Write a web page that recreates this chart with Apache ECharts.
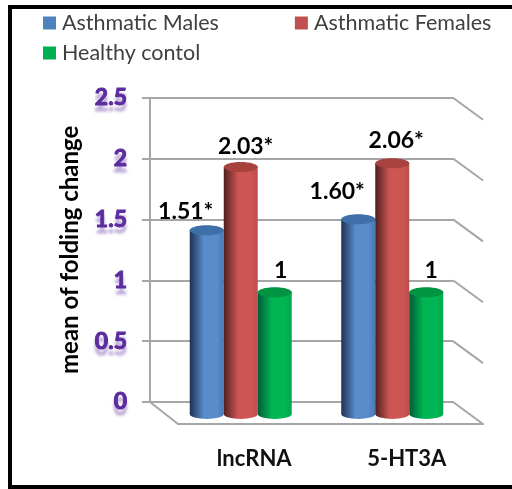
<!DOCTYPE html>
<html>
<head>
<meta charset="utf-8">
<style>
  html, body { margin: 0; padding: 0; background: #fff; }
  #chart { width: 512px; height: 489px; }
  /* picture frame, the reference has no right edge */
  #frame { position: absolute; left: 8px; top: 5px; width: 510px; height: 476px; box-sizing: content-box;
           border-left: 4px solid #000; border-top: 4px solid #000; border-bottom: 4px solid #000; pointer-events: none; }
  body { overflow: hidden; }
</style>
</head>
<body>
<div id="chart"></div>
<div id="frame"></div>
<script src="https://cdn.jsdelivr.net/npm/echarts@6/dist/echarts.min.js"></script>
<script>
const categories = ['lncRNA', '5-HT3A'];
const seriesNames = ['Asthmatic Males', 'Asthmatic Females', 'Healthy contol'];
const malesValues = [1.51, 1.60];
const femalesValues = [2.03, 2.06];
const controlValues = [1, 1];
const malesLabels = ['1.51*', '1.60*'];
const femalesLabels = ['2.03*', '2.06*'];
const controlLabels = ['1', '1'];
const yTicks = [0, 0.5, 1, 1.5, 2, 2.5];

let myChart = echarts.init(document.getElementById('chart'), null, { renderer: 'canvas' });

const FONT = 'Lato';
const GREY = '#a6a6a6';
const DEPTH_X = 30, DEPTH_Y = 22;   // receding side walls
const BAR_W = 34, BAR_RY = 5;

// dark edge, body colour, top cap
const barColors = [
    { legend: '#4f81bd', dark: '#1d3254', body: '#5a8ccb', edge: '#4a78b4', cap: '#3f6fa8' },
    { legend: '#c0504d', dark: '#4f1f1e', body: '#cd5654', edge: '#bc4e4b', cap: '#a8423f' },
    { legend: '#00b050', dark: '#005c3a', body: '#00b652', edge: '#00a84c', cap: '#009443' },
];

// one cylinder, stands in front of the back wall
function cylinder(seriesIdx, labelDx, labelDy) {
    return function (params, api) {
        let band = api.size([1, 0])[0];
        let base = api.coord([api.value(0), 0]);
        let top = api.coord([api.value(0), api.value(1)]);
        let c = barColors[seriesIdx];
        let cx = base[0] + 15 + (seriesIdx - 1) * band * 0.2244;
        let yBase = base[1] + 12, yTop = top[1] + 12;
        let rx = BAR_W / 2;
        let d = 'M' + (cx - rx) + ' ' + yTop + 'L' + (cx - rx) + ' ' + yBase +
            'A' + rx + ' ' + BAR_RY + ' 0 0 0 ' + (cx + rx) + ' ' + yBase +
            'L' + (cx + rx) + ' ' + yTop + 'Z';
        return {
            type: 'group',
            children: [
                {
                    type: 'path',
                    shape: { pathData: d },
                    style: {
                        fill: new echarts.graphic.LinearGradient(0, 0, 1, 0, [
                            { offset: 0, color: c.dark },
                            { offset: 0.42, color: c.body },
                            { offset: 0.8, color: c.body },
                            { offset: 1, color: c.edge },
                        ]),
                    },
                },
                {
                    type: 'ellipse',
                    shape: { cx: cx, cy: yTop, rx: rx, ry: BAR_RY },
                    style: { fill: c.cap },
                },
                {
                    type: 'text',
                    z2: 100,
                    style: {
                        text: api.value(2),
                        x: cx + labelDx[params.dataIndex],
                        y: yTop + labelDy[params.dataIndex],
                        align: 'center',
                        verticalAlign: 'middle',
                        font: 'bold 23px ' + FONT,
                        fill: '#000',
                    },
                },
            ],
        };
    };
}

function barSeries(idx, values, labels, labelDx, labelDy) {
    return {
        name: seriesNames[idx],
        type: 'custom',
        xAxisIndex: 0,
        yAxisIndex: 0,
        z: 10 + idx,
        clip: false,
        itemStyle: { color: barColors[idx].legend },
        encode: { x: 0, y: 1 },
        data: categories.map(function (c, i) { return [i, values[i], labels[i]]; }),
        renderItem: cylinder(idx, labelDx, labelDy),
    };
}

myChart.setOption({
    animation: false,
    backgroundColor: '#fff',
    legend: [
        {
            left: 43, top: 12, padding: 0,
            data: [seriesNames[0], seriesNames[1]],
            icon: 'rect', itemWidth: 13, itemHeight: 13, itemGap: 76,
            textStyle: { fontFamily: FONT, fontSize: 21.5, color: '#404040', padding: [0, 0, 0, 1] },
        },
        {
            left: 43, top: 42, padding: 0,
            data: [seriesNames[2]],
            icon: 'rect', itemWidth: 13, itemHeight: 13,
            textStyle: { fontFamily: FONT, fontSize: 21.5, color: '#404040', padding: [0, 0, 0, 1] },
        },
    ],
    grid: [
        { left: 150, top: 97.7, width: 303, height: 304.3 }, // back wall
        { left: 178, top: 97.7, width: 305, height: 326.3 }, // front edge of floor
    ],
    xAxis: [
        {
            type: 'category', data: categories, gridIndex: 0,
            axisTick: { show: false }, axisLabel: { show: false },
            axisLine: { lineStyle: { color: GREY, width: 2 } },
        },
        {
            type: 'category', data: categories, gridIndex: 1,
            axisTick: { show: false },
            axisLine: { lineStyle: { color: GREY, width: 2 } },
            axisLabel: { fontFamily: FONT, fontSize: 22, fontWeight: 'bold', color: '#111', margin: 24 },
        },
    ],
    yAxis: [
        {
            type: 'value', gridIndex: 0, min: 0, max: 2.5, interval: 0.5,
            name: 'mean of folding change',
            nameLocation: 'middle',
            nameGap: 68,
            nameTextStyle: { fontFamily: FONT, fontSize: 24, fontWeight: 'bold', color: '#000' },
            axisLine: { show: true, lineStyle: { color: GREY, width: 2 } },
            axisTick: { show: true, length: 8, lineStyle: { color: GREY, width: 2 } },
            splitLine: { lineStyle: { color: GREY, width: 2 } },
            axisLabel: {
                fontFamily: FONT, fontSize: 23, fontWeight: 'bold', color: '#5b2d9e', margin: 23,
                padding: [5, 0, 0, 0],
                textBorderColor: '#5b2d9e', textBorderWidth: 1,
                textShadowColor: 'rgba(91,45,158,0.35)', textShadowBlur: 3, textShadowOffsetY: 6,
                formatter: function (v) { return String(v); },
            },
        },
        { type: 'value', gridIndex: 1, min: 0, max: 1, show: false },
    ],
    series: [
        {
            // side wall lines running forward from each gridline
            type: 'custom',
            xAxisIndex: 0,
            yAxisIndex: 0,
            silent: true,
            clip: false,
            z: 1,
            data: yTicks.map(function (t) { return [0, t]; }),
            encode: { y: 1 },
            renderItem: function (params, api) {
                let xr = params.coordSys.x + params.coordSys.width;
                let y = api.coord([0, api.value(1)])[1];
                let lineStyle = { stroke: GREY, lineWidth: 2 };
                let children = [{
                    type: 'line',
                    shape: { x1: xr, y1: y, x2: xr + DEPTH_X, y2: y + DEPTH_Y },
                    style: lineStyle,
                }];
                if (api.value(1) === 0) {
                    let xl = params.coordSys.x;
                    children.push({
                        type: 'line',
                        shape: { x1: xl, y1: y, x2: xl + 28, y2: y + DEPTH_Y },
                        style: lineStyle,
                    });
                }
                return { type: 'group', children: children };
            },
        },
        barSeries(0, malesValues, malesLabels, [-21, -21], [-19, -28]),
        barSeries(1, femalesValues, femalesLabels, [5, 4], [-20, -23]),
        barSeries(2, controlValues, controlLabels, [6, 5], [-22, -22]),
    ],
});
</script>
</body>
</html>
